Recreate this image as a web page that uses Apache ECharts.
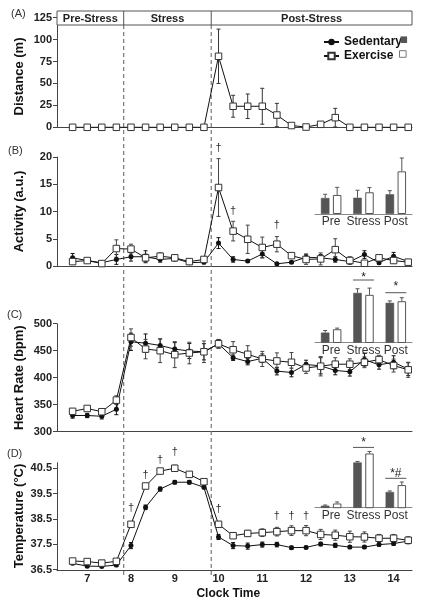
<!DOCTYPE html>
<html><head><meta charset="utf-8">
<script src="https://cdn.jsdelivr.net/npm/echarts@6/dist/echarts.min.js"></script>
<style>html,body{margin:0;padding:0;background:#fff}#c{width:422px;height:607px}</style>
</head><body><div id="c"></div>
<script>
// ---------- DATA ----------
const timeLabels = ['6:40','7:00','7:20','7:40','8:00','8:20','8:40','9:00','9:20','9:40','10:00','10:20','10:40','11:00','11:20','11:40','12:00','12:20','12:40','13:00','13:20','13:40','14:00','14:20'];
const xTickValues = [7,8,9,10,11,12,13,14];
const phaseNames = ['Pre-Stress','Stress','Post-Stress'];
const phaseBounds = ['7:50','9:50'];
const seriesNames = ['Sedentary','Exercise'];

const distEx    = [0,0,0,0,0,0,0,0,0,0,81,24,24,24,14,2,0.3,3.4,11,0,0,0,0,0];
const distExErr = [0,0,0,0,0,0,0,0,0,0,31,12.5,14,20.5,13.3,1,0.5,1,10.6,0,0,0,0,0];

const actSed    = [1.5,1.0,0.6,1.2,1.7,1.7,1.2,1.4,0.6,0.7,4.2,1.2,0.9,2.2,0.4,0.7,1.6,1.5,1.2,0.8,2.1,0.6,1.8,0.8];
const actSedErr = [0.8,0.3,0.2,0.9,0.8,1.1,0.5,0.5,0.3,0.3,1.0,0.5,0.2,0.7,0.2,0.2,0.6,0.6,0.5,0.4,0.7,0.3,0.7,0.3];
const actEx     = [0.8,1.0,0.45,3.2,3.1,1.5,1.8,1.5,0.8,1.2,14.4,6.4,4.9,3.4,4.0,1.9,1.2,1.3,3.0,1.0,0.5,1.5,1.0,0.7];
const actExErr  = [0.5,0.3,0.2,1.6,0.9,0.7,0.6,0.5,0.3,0.4,5.3,1.8,2.6,1.9,1.4,0.3,0.9,1.1,2.0,0.7,0.3,0.4,0.5,0.3];

const hrSed    = [330,330,328.6,341.5,466.5,464,459.7,453,449.4,448,462.8,437,429.8,436,412.2,409.7,424.4,422,413.4,411,433.5,423.8,428.6,415.8];
const hrSedErr = [5,4,5,10,16,17,12,12,14,15,8,5,6,8,7,8,8,15,8,8,12,8,12,12];
const hrEx     = [337.7,343,337,358.5,474.4,453,450,442.7,445.7,448,462.8,451.8,443.3,434.7,431,428.6,418,421.3,425,425,428.6,433.5,422.5,414.6];
const hrExErr  = [4,3,5,8,16,18,22,24,20,20,8,15,16,14,15,18,10,18,12,10,10,8,12,14];

const tempSed    = [36.75,36.64,36.63,36.68,37.45,38.96,39.68,39.95,39.95,39.75,37.79,37.45,37.43,37.49,37.49,37.37,37.38,37.51,37.46,37.39,37.39,37.49,37.53,37.63];
const tempSedErr = [0.05,0.04,0.04,0.06,0.12,0.09,0.08,0.07,0.07,0.06,0.10,0.12,0.12,0.10,0.09,0.06,0.05,0.07,0.08,0.06,0.06,0.06,0.07,0.10];
const tempEx     = [36.84,36.82,36.76,36.83,38.29,39.80,40.39,40.50,40.26,39.97,38.29,37.84,37.93,37.96,38.00,38.04,38.04,37.89,37.86,37.80,37.79,37.74,37.74,37.66];
const tempExErr  = [0.05,0.05,0.04,0.06,0.10,0.07,0.06,0.12,0.08,0.06,0.10,0.10,0.12,0.15,0.17,0.19,0.20,0.20,0.20,0.22,0.20,0.15,0.15,0.14];

// insets (phase means)
const insetCats = ['Pre','Stress','Post'];
const actBarSed = [1.2,1.22,1.48],   actBarSedErr = [0.28,0.56,0.27];
const actBarEx  = [1.43,1.63,3.2],   actBarExErr  = [0.57,0.35,1.0];
const hrBarSed  = [331,455,424],     hrBarSedErr  = [6.5,13,6];
const hrBarEx   = [341.5,449,429],   hrBarExErr   = [3.5,21,11];
const tempBarSed = [36.72,39.28,37.53], tempBarSedErr = [0.04,0.06,0.06];
const tempBarEx  = [36.85,39.81,37.94], tempBarExErr  = [0.09,0.12,0.18];

// significance marks
const actDaggers  = [['10:00',21.6],['10:20',10.1],['11:20',7.5]];
const tempDaggers = [['8:00',38.92],['8:20',40.24],['8:40',40.83],['9:00',41.14],['10:00',38.88],['11:20',38.61],['11:40',38.61],['12:00',38.61]];
const hrStars   = [['Stress','*',508.75,495.3],['Post','*',479.7,455.6]];
const tempStars = [['Stress','*',40.55,40.17],['Post','*#',38.73,38.34]];

// ---------- LAYOUT / STYLE ----------
const FONT = "'Liberation Sans', Arial, Helvetica, sans-serif";
const toHours = s => { const p = s.split(':').map(Number); return p[0] + p[1] / 60; };
const times = timeLabels.map(toHours);
const X_MIN = 6.31, X_MAX = 14.42;
const GL = 57, GR = 412;
const AX = '#444';
const BAR_W = 8.5, BAR_GAP = 0.41;
const BAR_OFF = (BAR_W + BAR_W * BAR_GAP) / 2;

const mainGrids = [
  {top: 17.7, height: 109.6},
  {top: 157, height: 109},
  {top: 323.7, height: 108},
  {top: 462.7, height: 108}
];
const insetGrids = [
  {top: 154, height: 60},
  {top: 278.5, height: 64},
  {top: 446.9, height: 60.8}
];

const grids = mainGrids.map(g => ({left: GL, width: GR - GL, top: g.top, height: g.height, outerBoundsMode: 'none'}))
  .concat(insetGrids.map(g => ({left: 315, width: 97, top: g.top, height: g.height, outerBoundsMode: 'none'})));

const tickLabel = {fontFamily: FONT, fontWeight: 'bold', fontSize: 11, color: '#222', margin: 5};

const xAxes = [0,1,2,3].map(i => ({
  type: 'value', gridIndex: i, min: X_MIN, max: X_MAX,
  axisLine: {show: true, onZero: false, lineStyle: {color: AX, width: 1}},
  axisTick: {show: false}, splitLine: {show: false},
  axisLabel: i === 3 ? Object.assign({}, tickLabel, {margin: 3, customValues: xTickValues}) : {show: false}
})).concat([4,5,6].map(i => ({
  type: 'category', gridIndex: i, data: insetCats,
  axisLine: {show: true, lineStyle: {color: '#888', width: 1}},
  axisTick: {show: false}, splitLine: {show: false},
  axisLabel: {fontFamily: FONT, fontSize: 12, color: '#333', margin: 2, interval: 0}
})));

function yMain(i, min, max, interval, custom) {
  const o = {
    type: 'value', gridIndex: i, min, max,
    axisLine: {show: true, lineStyle: {color: AX, width: 1}},
    axisTick: {show: true, length: 4, lineStyle: {color: AX}},
    splitLine: {show: false},
    axisLabel: Object.assign({}, tickLabel)
  };
  if (interval) o.interval = interval;
  if (custom) { o.axisLabel.customValues = custom; o.axisTick.customValues = custom; }
  return o;
}
const yAxes = [
  yMain(0, 0, 125, 25),
  yMain(1, 0, 20, 5),
  yMain(2, 300, 500, 50),
  yMain(3, 36.46, 40.72, null, [36.5,37.5,38.5,39.5,40.5]),
  {type:'value', gridIndex:4, min:0, max:4.5, show:false},
  {type:'value', gridIndex:5, min:300, max:500, show:false},
  {type:'value', gridIndex:6, min:36.6, max:40.2, show:false}
];

function lineSeries(name, gi, vals) {
  const sed = name === seriesNames[0];
  return {
    type: 'line', name, xAxisIndex: gi, yAxisIndex: gi,
    data: times.map((t, i) => [t, vals[i]]),
    symbol: sed ? 'circle' : 'rect', symbolSize: sed ? 5 : 6.5,
    itemStyle: sed ? {color: '#111'} : {color: '#fff', borderColor: '#333', borderWidth: 1},
    lineStyle: {color: '#111', width: 1},
    z: sed ? 4 : 5, animation: false, silent: true, emphasis: {disabled: true}
  };
}
function errSeries(gi, vals, errs, color) {
  return {
    type: 'custom', xAxisIndex: gi, yAxisIndex: gi, silent: true, z: 3,
    data: times.map((t, i) => [t, vals[i], errs[i]]),
    encode: {x: 0, y: 1},
    renderItem: (p, api) => {
      const x = api.value(0), v = api.value(1), e = api.value(2);
      if (!e) return null;
      const a = api.coord([x, v + e]), b = api.coord([x, v - e]);
      const w = 2, st = {stroke: color, lineWidth: 1};
      return {type: 'group', children: [
        {type: 'line', shape: {x1: a[0], y1: a[1], x2: b[0], y2: b[1]}, style: st},
        {type: 'line', shape: {x1: a[0]-w, y1: a[1], x2: a[0]+w, y2: a[1]}, style: st},
        {type: 'line', shape: {x1: b[0]-w, y1: b[1], x2: b[0]+w, y2: b[1]}, style: st}
      ]};
    }
  };
}
function barSeries(name, gi, vals) {
  const sed = name === seriesNames[0];
  return {
    type: 'bar', xAxisIndex: gi, yAxisIndex: gi, data: vals, barWidth: BAR_W, barGap: (BAR_GAP*100) + '%',
    itemStyle: sed ? {color: '#555', borderColor: '#555', borderWidth: 0.5} : {color: '#fff', borderColor: '#555', borderWidth: 1},
    silent: true, z: 2, animation: false, clip: true
  };
}
function barErr(gi, vals, errs, side) {
  return {
    type: 'custom', xAxisIndex: gi, yAxisIndex: gi, silent: true, z: 3,
    data: vals.map((v, i) => [i, v, errs[i]]),
    encode: {x: 0, y: 1},
    renderItem: (p, api) => {
      const c = api.value(0), v = api.value(1), e = api.value(2);
      const a = api.coord([c, v]), b = api.coord([c, v + e]);
      const x = a[0] + side * BAR_OFF, st = {stroke: '#555', lineWidth: 1};
      return {type: 'group', children: [
        {type: 'line', shape: {x1: x, y1: a[1], x2: x, y2: b[1]}, style: st},
        {type: 'line', shape: {x1: x-2, y1: b[1], x2: x+2, y2: b[1]}, style: st}
      ]};
    }
  };
}

const series = [
  errSeries(0, distEx, distExErr, '#333'),
  lineSeries('Exercise', 0, distEx),

  errSeries(1, actSed, actSedErr, '#111'),
  errSeries(1, actEx, actExErr, '#444'),
  lineSeries('Sedentary', 1, actSed),
  lineSeries('Exercise', 1, actEx),

  errSeries(2, hrSed, hrSedErr, '#111'),
  errSeries(2, hrEx, hrExErr, '#444'),
  lineSeries('Sedentary', 2, hrSed),
  lineSeries('Exercise', 2, hrEx),

  errSeries(3, tempSed, tempSedErr, '#111'),
  errSeries(3, tempEx, tempExErr, '#444'),
  lineSeries('Sedentary', 3, tempSed),
  lineSeries('Exercise', 3, tempEx),

  barSeries('Sedentary', 4, actBarSed), barSeries('Exercise', 4, actBarEx),
  barErr(4, actBarSed, actBarSedErr, -1), barErr(4, actBarEx, actBarExErr, 1),
  barSeries('Sedentary', 5, hrBarSed), barSeries('Exercise', 5, hrBarEx),
  barErr(5, hrBarSed, hrBarSedErr, -1), barErr(5, hrBarEx, hrBarExErr, 1),
  barSeries('Sedentary', 6, tempBarSed), barSeries('Exercise', 6, tempBarEx),
  barErr(6, tempBarSed, tempBarSedErr, -1), barErr(6, tempBarEx, tempBarExErr, 1)
];

const chart = echarts.init(document.getElementById('c'), null, {renderer: 'canvas'});
chart.setOption({
  animation: false,
  backgroundColor: '#fff',
  grid: grids, xAxis: xAxes, yAxis: yAxes, series,
  legend: {
    data: seriesNames, orient: 'vertical', left: 318, top: 31,
    itemWidth: 15, itemHeight: 8, itemGap: 2, selectedMode: false,
    textStyle: {fontFamily: FONT, fontWeight: 'bold', fontSize: 12, color: '#111'}
  }
});

// ---------- DECORATION ----------
const g = [];
const txt = (text, x, y, size, weight, opts) => Object.assign({
  type: 'text', x, y, z: 20,
  style: Object.assign({text, fill: '#222', font: `${weight} ${size}px ${FONT}`, align: 'center', verticalAlign: 'middle'}, (opts && opts.style) || {})
}, opts && opts.el || {});

const bx = phaseBounds.map(s => chart.convertToPixel({xAxisIndex: 3}, toHours(s)));
const boxTop = mainGrids[0].top - 6.7, boxBot = mainGrids[0].top + 7.3;
const yBottom = mainGrids[3].top + mainGrids[3].height + 6;
bx.forEach(x => g.push({type: 'line', z: 1, shape: {x1: x, y1: boxBot, x2: x, y2: yBottom},
  style: {stroke: '#777', lineWidth: 1.2, lineDash: [4, 3]}}));
g.push({type: 'rect', z: 15, shape: {x: GL, y: boxTop, width: GR - GL, height: boxBot - boxTop},
  style: {fill: '#fff', stroke: '#555', lineWidth: 1}});
bx.forEach(x => g.push({type: 'line', z: 16, shape: {x1: x, y1: boxTop, x2: x, y2: boxBot}, style: {stroke: '#555', lineWidth: 1}}));
const edges = [GL].concat(bx, [GR]);
phaseNames.forEach((n, i) => g.push(txt(n, (edges[i] + edges[i+1]) / 2, (boxTop + boxBot) / 2 + 0.5, 11, 'bold', {style: {fill: '#222'}})));

// panel letters and titles
[['(A)', 11, 14], ['(B)', 8, 151], ['(C)', 7, 315], ['(D)', 7, 454.3]].forEach(p =>
  g.push(txt(p[0], p[1], p[2], 11, 'normal', {style: {align: 'left', fill: '#333'}})));
const titles = ['Distance (m)', 'Activity (a.u.)', 'Heart Rate (bpm)', 'Temperature (°C)'];
const titleCenters = [76.5, 211.5, 377.7, 516];
titles.forEach((t, i) =>
  g.push(txt(t, 19, titleCenters[i], 13, 'bold', {el: {rotation: Math.PI / 2}, style: {fill: '#111'}})));
g.push(txt('Clock Time', 228.3, 594, 12, 'bold', {style: {fill: '#111'}}));

// inset legend keys
g.push({type: 'rect', z: 20, shape: {x: 400.5, y: 36.4, width: 6.6, height: 6.6}, style: {fill: '#555'}});
g.push({type: 'rect', z: 20, shape: {x: 399.5, y: 50.7, width: 6.6, height: 6.6}, style: {fill: '#fff', stroke: '#777', lineWidth: 1}});

// daggers
actDaggers.forEach(d => { const p = chart.convertToPixel({gridIndex: 1}, [toHours(d[0]), d[1]]);
  g.push(txt('†', p[0], p[1], 11, 'normal', {style: {fill: '#333'}})); });
tempDaggers.forEach(d => { const p = chart.convertToPixel({gridIndex: 3}, [toHours(d[0]), d[1]]);
  g.push(txt('†', p[0], p[1], 11, 'normal', {style: {fill: '#333'}})); });

// inset significance
function stars(gi, list) {
  list.forEach(s => {
    const ci = insetCats.indexOf(s[0]);
    const p = chart.convertToPixel({gridIndex: gi}, [ci, s[2]]);
    const q = chart.convertToPixel({gridIndex: gi}, [ci, s[3]]);
    g.push(txt(s[1], p[0], p[1] + 2, 12, 'normal', {style: {fill: '#222'}}));
    g.push({type: 'line', z: 20, shape: {x1: q[0] - 10.5, y1: q[1], x2: q[0] + 10.5, y2: q[1]}, style: {stroke: '#555', lineWidth: 1}});
  });
}
stars(5, hrStars);
stars(6, tempStars);

chart.setOption({graphic: g});
</script>
</body></html>
